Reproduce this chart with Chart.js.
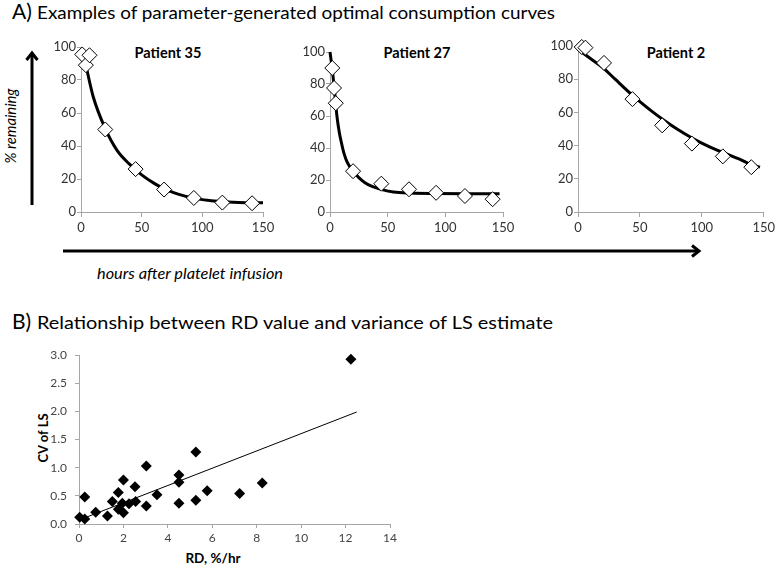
<!DOCTYPE html>
<html>
<head>
<meta charset="utf-8">
<script src="https://cdn.jsdelivr.net/npm/chart.js@4.4.1/dist/chart.umd.min.js"></script>
<style>
  html, body { margin: 0; padding: 0; background: #fff; }
  #fig { position: relative; width: 778px; height: 567px; overflow: hidden; }
  #fig svg { position: absolute; left: 0; top: 0; }
  #fig canvas { position: absolute; }
  text { font-family: Lato, 'Open Sans', sans-serif; fill: #000; }
</style>
</head>
<body>
<div id="fig">
  <svg width="778" height="567">
    <!-- panel titles -->
    <text x="12" y="19" font-size="21">A)</text>
    <text x="37" y="19" font-size="18" textLength="518" lengthAdjust="spacingAndGlyphs">Examples of parameter-generated optimal consumption curves</text>
    <text x="12" y="329" font-size="21">B)</text>
    <text x="37" y="329" font-size="18" textLength="516" lengthAdjust="spacingAndGlyphs">Relationship between RD value and variance of LS estimate</text>

    <!-- shared axis arrows of panel A -->
    <line x1="32" y1="205" x2="32" y2="54" stroke="#000" stroke-width="3"/>
    <polyline points="26.5,60 32,53 37.5,60" fill="none" stroke="#000" stroke-width="3"/>
    <line x1="63" y1="251" x2="698" y2="251" stroke="#000" stroke-width="3"/>
    <polyline points="692,245.5 699,251 692,256.5" fill="none" stroke="#000" stroke-width="3"/>
    <text transform="translate(16,126) rotate(-90)" font-size="16" font-style="italic" text-anchor="middle" textLength="75" lengthAdjust="spacingAndGlyphs">% remaining</text>
    <text x="97" y="279" font-size="16" font-style="italic" textLength="186" lengthAdjust="spacingAndGlyphs">hours after platelet infusion</text>

    <!-- patient labels -->
    <text x="168" y="58" font-size="14.5" font-weight="bold" text-anchor="middle">Patient 35</text>
    <text x="417" y="58" font-size="14.5" font-weight="bold" text-anchor="middle">Patient 27</text>
    <text x="676" y="58" font-size="14.5" font-weight="bold" text-anchor="middle">Patient 2</text>

    <!-- panel B axis titles -->
    <text transform="translate(48,438) rotate(-90)" font-size="13" font-weight="bold" text-anchor="middle">CV of LS</text>
    <text x="213" y="563" font-size="13.5" font-weight="bold" text-anchor="middle">RD, %/hr</text>
  </svg>
  <canvas id="p35" width="244" height="210" style="left:36px;top:37px"></canvas>
  <canvas id="p27" width="230" height="210" style="left:290px;top:37px"></canvas>
  <canvas id="p2" width="240" height="211" style="left:538px;top:36px"></canvas>
  <canvas id="rd" width="380" height="227" style="left:30px;top:340px"></canvas>
</div>

<script>
// Patient 35 — measured points and fitted curve (hours, % remaining)
const hoursP35 = [1, 4, 7, 20, 45, 68.5, 93, 116.5, 141];
const remainP35 = [95.5, 89, 95, 50, 26, 13.6, 8.5, 5.7, 5.3];
const fitHoursP35 = [4, 10, 20, 30, 40, 50, 60, 70, 80, 90, 100, 115, 130, 150];
const fitRemainP35 = [89, 70, 50.5, 37, 29, 22.5, 17.5, 13.5, 10.8, 8.8, 7.5, 6.3, 5.8, 5.6];

// Patient 27
const hoursP27 = [2, 3.5, 5, 20, 44.5, 68.5, 92, 117, 141];
const remainP27 = [90, 77.5, 68, 25.5, 17.7, 14.2, 12, 10, 8];
const fitHoursP27 = [0, 2, 4, 6, 8, 10, 12, 15, 20, 25, 30, 37, 45, 55, 70, 90, 120, 147];
const fitRemainP27 = [100, 89, 75, 60, 50, 43, 37, 31, 25.5, 21.5, 18.5, 15.8, 14, 12.5, 11.8, 11.5, 11.4, 11.4];

// Patient 2
const hoursP2 = [3, 6, 21, 44, 68, 92, 117, 140];
const remainP2 = [99.4, 99, 89.8, 68, 52.2, 41.2, 33.5, 27];
const fitHoursP2 = [0, 10, 20, 30, 40, 50, 60, 70, 80, 90, 100, 110, 120, 130, 140, 147];
const fitRemainP2 = [98, 92.5, 87, 80, 73, 66.5, 60.5, 55, 50, 45.5, 41.5, 38, 35, 32, 28.5, 27];

const hourTicks = [0, 50, 100, 150];
const remainTicks = [0, 20, 40, 60, 80, 100];

// Panel B — RD (%/hr) vs CV of LS
const rdValues = [0.03, 0.26, 0.26, 0.75, 1.28, 1.5, 1.77, 1.77, 1.95, 2.0, 2.0, 2.25, 2.52, 2.55,
  3.03, 3.03, 3.51, 4.5, 4.5, 4.5, 5.26, 5.26, 5.77, 7.23, 8.25, 12.24];
const cvValues = [0.12, 0.09, 0.48, 0.21, 0.14, 0.40, 0.56, 0.26, 0.37, 0.78, 0.20, 0.36, 0.66, 0.40,
  1.03, 0.32, 0.52, 0.87, 0.74, 0.37, 1.28, 0.42, 0.59, 0.54, 0.73, 2.93];
const trendRd = [0, 12.5];
const trendCv = [0.07, 1.99];

const rdTicks = [0, 2, 4, 6, 8, 10, 12, 14];
const cvTicks = [0, 0.5, 1.0, 1.5, 2.0, 2.5, 3.0];

Chart.defaults.font.family = "Lato, 'Open Sans', sans-serif";
Chart.defaults.animation = false;
Chart.defaults.devicePixelRatio = 1;

const axisGray = '#a6a6a6';

function pairs(xs, ys) {
  return xs.map((x, i) => ({ x, y: ys[i] }));
}

function fixedTicks(values) {
  return (scale) => { scale.ticks = values.map((v) => ({ value: v })); };
}

function curveChart(id, pts, fit, yAxisW, pad) {
  new Chart(document.getElementById(id), {
    type: 'scatter',
    data: {
      datasets: [
        {
          data: pts,
          pointStyle: 'rectRot',
          pointRadius: 7.5,
          backgroundColor: '#fff',
          borderColor: '#000',
          borderWidth: 1,
          clip: false,
        },
        {
          data: fit,
          showLine: true,
          pointRadius: 0,
          borderColor: '#000',
          borderWidth: 3,
          cubicInterpolationMode: 'monotone',
          clip: false,
        },
      ],
    },
    options: {
      responsive: false,
      layout: { padding: pad },
      plugins: { legend: { display: false }, tooltip: { enabled: false } },
      scales: {
        x: {
          type: 'linear', min: 0, max: 150,
          afterBuildTicks: fixedTicks(hourTicks),
          afterFit: (s) => { s.height = 35; },
          grid: { drawOnChartArea: false, tickLength: 5, color: axisGray },
          border: { color: axisGray },
          ticks: { color: '#333', font: { size: 13 }, padding: 3, maxRotation: 0 },
        },
        y: {
          min: 0, max: 100,
          afterBuildTicks: fixedTicks(remainTicks),
          afterFit: (s) => { s.width = yAxisW; },
          grid: { drawOnChartArea: false, tickLength: 4, color: axisGray },
          border: { color: axisGray },
          ticks: { color: '#333', font: { size: 13 }, padding: 1 },
        },
      },
    },
  });
}

curveChart('p35', pairs(hoursP35, remainP35), pairs(fitHoursP35, fitRemainP35), 45,
  { top: 10, right: 17, left: 0, bottom: 0 });
curveChart('p27', pairs(hoursP27, remainP27), pairs(fitHoursP27, fitRemainP27), 40,
  { top: 15, right: 17, left: 0, bottom: 0 });
curveChart('p2', pairs(hoursP2, remainP2), pairs(fitHoursP2, fitRemainP2), 40,
  { top: 10, right: 10, left: 0, bottom: 0 });

new Chart(document.getElementById('rd'), {
  type: 'scatter',
  data: {
    datasets: [
      {
        data: pairs(rdValues, cvValues),
        pointStyle: 'rectRot',
        pointRadius: 5.5,
        backgroundColor: '#000',
        borderColor: '#000',
        borderWidth: 0,
        clip: false,
      },
      {
        data: pairs(trendRd, trendCv),
        showLine: true,
        pointRadius: 0,
        borderColor: '#000',
        borderWidth: 1,
      },
    ],
  },
  options: {
    responsive: false,
    layout: { padding: { top: 12, right: 20, left: 0, bottom: 0 } },
    plugins: { legend: { display: false }, tooltip: { enabled: false } },
    scales: {
      x: {
        type: 'linear', min: 0, max: 14,
        afterBuildTicks: fixedTicks(rdTicks),
        afterFit: (s) => { s.height = 43; },
        grid: { drawOnChartArea: false, tickLength: 4, color: axisGray },
        border: { color: axisGray },
        ticks: { color: '#444', font: { size: 12 }, padding: 3, maxRotation: 0 },
      },
      y: {
        min: 0, max: 3,
        afterBuildTicks: fixedTicks(cvTicks),
        afterFit: (s) => { s.width = 49; },
        grid: { drawOnChartArea: false, tickLength: 4, color: axisGray },
        border: { color: axisGray },
        ticks: { color: '#444', font: { size: 12 }, padding: 8, callback: (v) => v.toFixed(1) },
      },
    },
  },
});
</script>
</body>
</html>
